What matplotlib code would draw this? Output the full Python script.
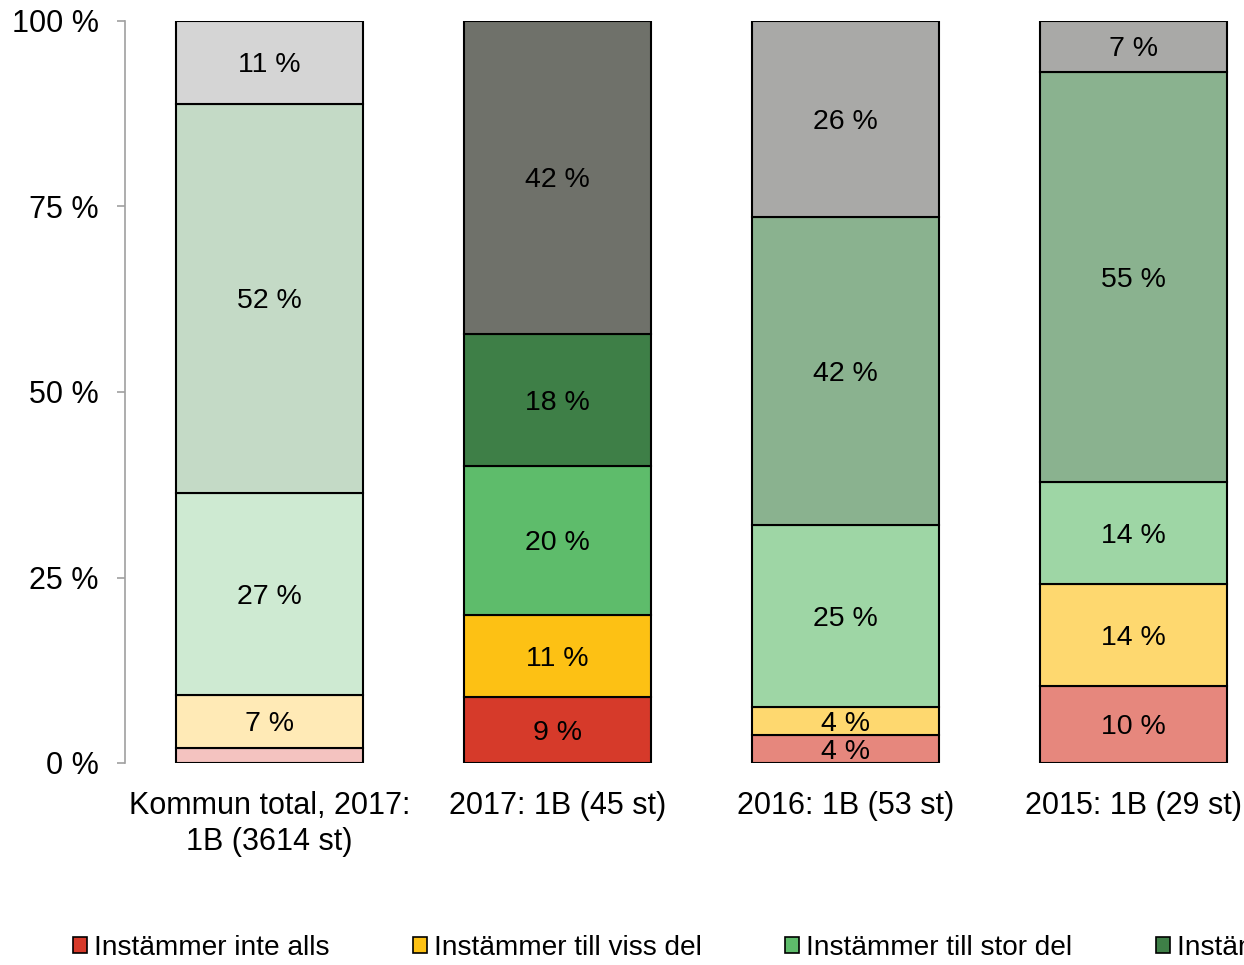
import matplotlib
matplotlib.use("Agg")
import matplotlib.pyplot as plt
from matplotlib.patches import Patch
import numpy as np

plt.rcParams['font.family'] = ['Liberation Sans', 'DejaVu Sans']

categories = ["Kommun total, 2017:\n1B (3614 st)", "2017: 1B (45 st)",
              "2016: 1B (53 st)", "2015: 1B (29 st)"]
series_names = ["Instämmer inte alls", "Instämmer till viss del",
                "Instämmer till stor del", "Instämmer helt", "Vet ej"]
# values per category, in series order (bottom to top)
inte_alls = [2.0, 8.89, 3.77, 10.34]
viss_del = [7.2, 11.11, 3.77, 13.79]
stor_del = [27.2, 20.0, 24.53, 13.79]
helt = [52.4, 17.78, 41.51, 55.17]
vet_ej = [11.2, 42.22, 26.42, 6.90]
show_label = [[False, True, True, True, True],
              [True, True, True, True, True],
              [True, True, True, True, True],
              [True, True, True, True, True]]

# colours per category (rows) and series (columns)
colors = [
    ["#f4c3c0", "#ffeab6", "#ceead2", "#c4dac6", "#d5d5d5"],
    ["#d63a2a", "#fdc114", "#5ebc6b", "#3e7f47", "#6f716a"],
    ["#e6877d", "#fed86f", "#9ed6a5", "#8ab28f", "#a9a9a7"],
    ["#e6877d", "#fed86f", "#9ed6a5", "#8ab28f", "#a9a9a7"],
]
legend_colors = ["#d63a2a", "#fdc114", "#5ebc6b", "#3e7f47", "#6f716a"]

data = np.array([inte_alls, viss_del, stor_del, helt, vet_ej])  # series x cats

fig = plt.figure(figsize=(12.44, 9.65), dpi=100)
ax = fig.add_axes([125/1244, (965-763)/965, (1277.5-125)/1244, (763-21)/965])

x = np.arange(len(categories))
bottom = np.zeros(len(categories))
for s in range(data.shape[0]):
    vals = data[s]
    cols = [colors[c][s] for c in range(len(categories))]
    ax.bar(x, vals, width=0.65, bottom=bottom, color=cols,
           edgecolor="black", linewidth=1.5, zorder=3)
    for c in range(len(categories)):
        if show_label[c][s]:
            ax.annotate(f"{int(vals[c] + 0.5):d} %",
                        xy=(x[c], bottom[c] + vals[c] / 2),
                        xytext=(0, -2), textcoords="offset points",
                        ha="center", va="center", fontsize=20.5,
                        color="black", zorder=4)
    bottom += vals

ax.set_xlim(-0.502, 3.5)
ax.set_ylim(0, 100)
ax.set_yticks([0, 25, 50, 75, 100])
ax.set_yticklabels(["0 %", "25 %", "50 %", "75 %", "100 %"])
ax.set_xticks(x)
ax.set_xticklabels(categories, fontsize=22, linespacing=1.25)
ax.tick_params(axis="x", length=0, pad=20.5)
ax.tick_params(axis="y", length=6, width=1.2, color="#a0a0a0",
               labelsize=22, pad=13)
for side in ["top", "right", "bottom"]:
    ax.spines[side].set_visible(False)
ax.spines["left"].set_color("#a0a0a0")
ax.spines["left"].set_linewidth(1.2)

handles = [Patch(facecolor=legend_colors[i], edgecolor="black", linewidth=1.2)
           for i in range(len(series_names))]
fig.legend(handles, series_names, loc="center left",
           bbox_to_anchor=(73/1244, 1 - 948/965), ncol=5, frameon=False,
           fontsize=20.15, handlelength=0.5, handleheight=0.5,
           handletextpad=0.25, columnspacing=2.98, borderpad=0,
           borderaxespad=0)

fig.savefig("out.png", dpi=100)
